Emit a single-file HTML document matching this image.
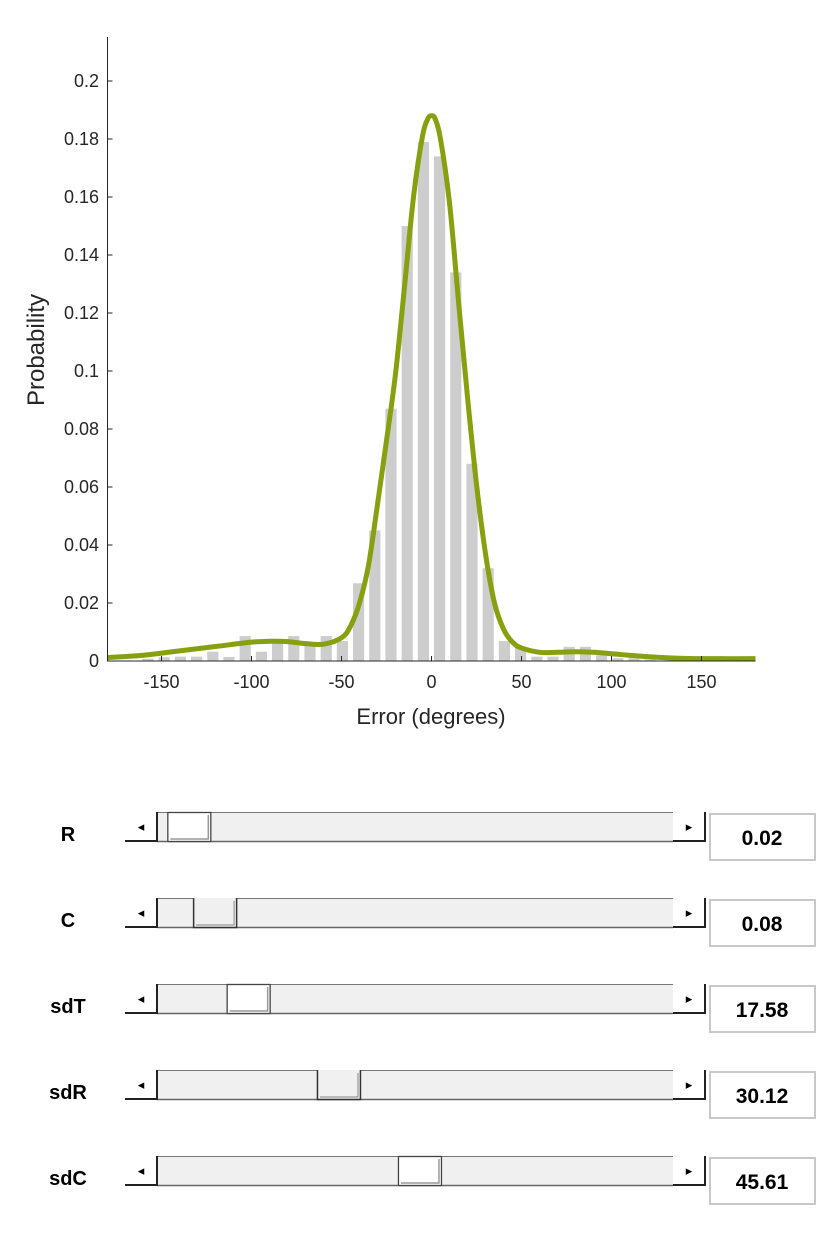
<!DOCTYPE html>
<html><head><meta charset="utf-8"><style>
body{margin:0;background:#fff;width:833px;height:1250px;overflow:hidden;font-family:"Liberation Sans",sans-serif}
</style></head><body>
<svg id="s" width="833" height="1250" xmlns="http://www.w3.org/2000/svg" font-family="Liberation Sans, sans-serif">
<g id="chart"></g>
<g id="ctrl"></g>
</svg>
<script>
const binCenters=[-175.5,-166.5,-157.5,-148.5,-139.5,-130.5,-121.5,-112.5,-103.5,-94.5,-85.5,-76.5,-67.5,-58.5,-49.5,-40.5,-31.5,-22.5,-13.5,-4.5,4.5,13.5,22.5,31.5,40.5,49.5,58.5,67.5,76.5,85.5,94.5,103.5,112.5,121.5,130.5,139.5,148.5,157.5,166.5,175.5];
const binValues=[0,0,0.0008,0.0013,0.0015,0.0015,0.0032,0.0014,0.0086,0.0032,0.0063,0.0086,0.0063,0.0086,0.0069,0.0268,0.045,0.087,0.150,0.179,0.174,0.134,0.068,0.032,0.0069,0.0047,0.0015,0.0015,0.0049,0.0049,0.002,0.001,0.001,0.0005,0,0,0,0,0,0];
const curveX=[-180,-160,-140,-120,-100,-90,-80,-70,-60,-50,-45,-40,-35,-30,-25,-20,-15,-10,-5,-2,0,2,5,10,15,20,25,30,35,40,45,50,60,70,80,90,100,120,140,160,180];
const curveY=[0.0012,0.002,0.0035,0.005,0.0065,0.0068,0.0067,0.006,0.0058,0.008,0.012,0.02,0.033,0.054,0.076,0.099,0.129,0.16,0.181,0.187,0.188,0.187,0.18,0.158,0.124,0.091,0.061,0.037,0.02,0.011,0.0065,0.0045,0.003,0.003,0.0032,0.003,0.0025,0.0015,0.0009,0.0008,0.0008];
const xTicks=[-150,-100,-50,0,50,100,150];
const yTicks=[0,0.02,0.04,0.06,0.08,0.1,0.12,0.14,0.16,0.18,0.2];
const sliderNames=["R","C","sdT","sdR","sdC"];
const sliderValues=["0.02","0.08","17.58","30.12","45.61"];
const thumbPos=[0.02,0.07,0.135,0.31,0.467];
const thumbRaised=[true,false,true,false,true];

const NS="http://www.w3.org/2000/svg";
const X0=107.5,X1=755.5,Y0=661,PPY=2900;
const sx=v=>X0+(v+180)/360*(X1-X0);
const sy=v=>Y0-v*PPY;
function mk(p,tag,a,t){const e=document.createElementNS(NS,tag);for(const k in a)e.setAttribute(k,a[k]);if(t!==undefined)e.textContent=t;p.appendChild(e);return e;}
const C=document.getElementById('chart');
binCenters.forEach((c,i)=>{if(binValues[i]<=0)return;const w=6.2/360*(X1-X0);
const r=mk(C,'rect',{x:sx(c)-w/2,y:sy(binValues[i]),width:w,height:binValues[i]*PPY,fill:'#cdcdcd'});

});
let pts=curveX.map((x,i)=>[sx(x),sy(curveY[i])]);let d='M'+pts[0].join(',');
for(let i=0;i<pts.length-1;i++){const p0=pts[Math.max(0,i-1)],p1=pts[i],p2=pts[i+1],p3=pts[Math.min(pts.length-1,i+2)];
d+=` C${p1[0]+(p2[0]-p0[0])/6},${p1[1]+(p2[1]-p0[1])/6} ${p2[0]-(p3[0]-p1[0])/6},${p2[1]-(p3[1]-p1[1])/6} ${p2[0]},${p2[1]}`;}
const cp=mk(C,'path',{d:d,fill:'none',stroke:'#86a00f','stroke-width':5,'stroke-linejoin':'round'});


const ax=mk(C,'path',{d:`M${X0},37 V${Y0} H${X1}`,fill:'none',stroke:'#262626','stroke-width':1});


xTicks.forEach(t=>{mk(C,'line',{x1:sx(t),x2:sx(t),y1:Y0,y2:Y0-5,stroke:'#262626'});
const tl=mk(C,'text',{x:sx(t),y:Y0+27,'text-anchor':'middle','font-size':18,fill:'#262626'},String(t));

});
yTicks.forEach(t=>{mk(C,'line',{x1:X0,x2:X0+5,y1:sy(t),y2:sy(t),stroke:'#262626'});
const tl=mk(C,'text',{x:99,y:sy(t)+6,'text-anchor':'end','font-size':18,fill:'#262626'},String(t));

});
const xt=mk(C,'text',{x:431,y:724,'text-anchor':'middle','font-size':22,fill:'#262626'},'Error (degrees)');


const yt=mk(C,'text',{x:0,y:0,'text-anchor':'middle','font-size':24,fill:'#262626',transform:'translate(44,350) rotate(-90)'},'Probability');


const P=document.getElementById('ctrl');
sliderNames.forEach((n,i)=>{const top=812+i*86;
const g=mk(P,'g',{});


const lb=mk(P,'text',{x:68,y:top+29,'text-anchor':'middle','font-size':20,'font-weight':'bold',fill:'#000'},n);


mk(g,'rect',{x:157,y:top,width:516,height:30,fill:'#f0f0f0'});
mk(g,'line',{x1:157,x2:673,y1:top+0.5,y2:top+0.5,stroke:'#777'});
mk(g,'line',{x1:157,x2:673,y1:top+29.5,y2:top+29.5,stroke:'#666','stroke-width':1.5});
[[125,'◂'],[673,'▸']].forEach(([bx,ch],k)=>{const b=mk(g,'g',{});


mk(b,'rect',{x:bx,y:top,width:32,height:30,fill:'#fff'});
mk(b,'path',{d:`M${bx},${top+29} H${bx+32} V${top}`,fill:'none',stroke:'#222','stroke-width':2});
mk(b,'text',{x:bx+16,y:top+19,'text-anchor':'middle','font-size':13,fill:'#000'},ch);});
const tx=157+thumbPos[i]*516;
const th=mk(g,'g',{});


mk(th,'rect',{x:tx,y:top,width:44,height:30,fill:thumbRaised[i]?'#fff':'#f0f0f0'});
if(thumbRaised[i]){mk(th,'rect',{x:tx+0.5,y:top+0.5,width:43,height:29,fill:'none',stroke:'#444','stroke-width':1.3});
mk(th,'path',{d:`M${tx+3},${top+27} H${tx+41} V${top+3}`,fill:'none',stroke:'#999','stroke-width':1.5});}
else{mk(th,'path',{d:`M${tx+0.5},${top} V${top+29.5} H${tx+43.5} V${top}`,fill:'none',stroke:'#333','stroke-width':1.5});
mk(th,'path',{d:`M${tx+3},${top+27} H${tx+41} V${top+3}`,fill:'none',stroke:'#999','stroke-width':1.2});}
const vb=mk(P,'g',{});


mk(vb,'rect',{x:710,y:top+2,width:105,height:46,fill:'#fff',stroke:'#c8c8c8','stroke-width':2});
mk(vb,'text',{x:762,y:top+33,'text-anchor':'middle','font-size':21,'font-weight':'bold',fill:'#000'},sliderValues[i]);
});
</script>
</body></html>
